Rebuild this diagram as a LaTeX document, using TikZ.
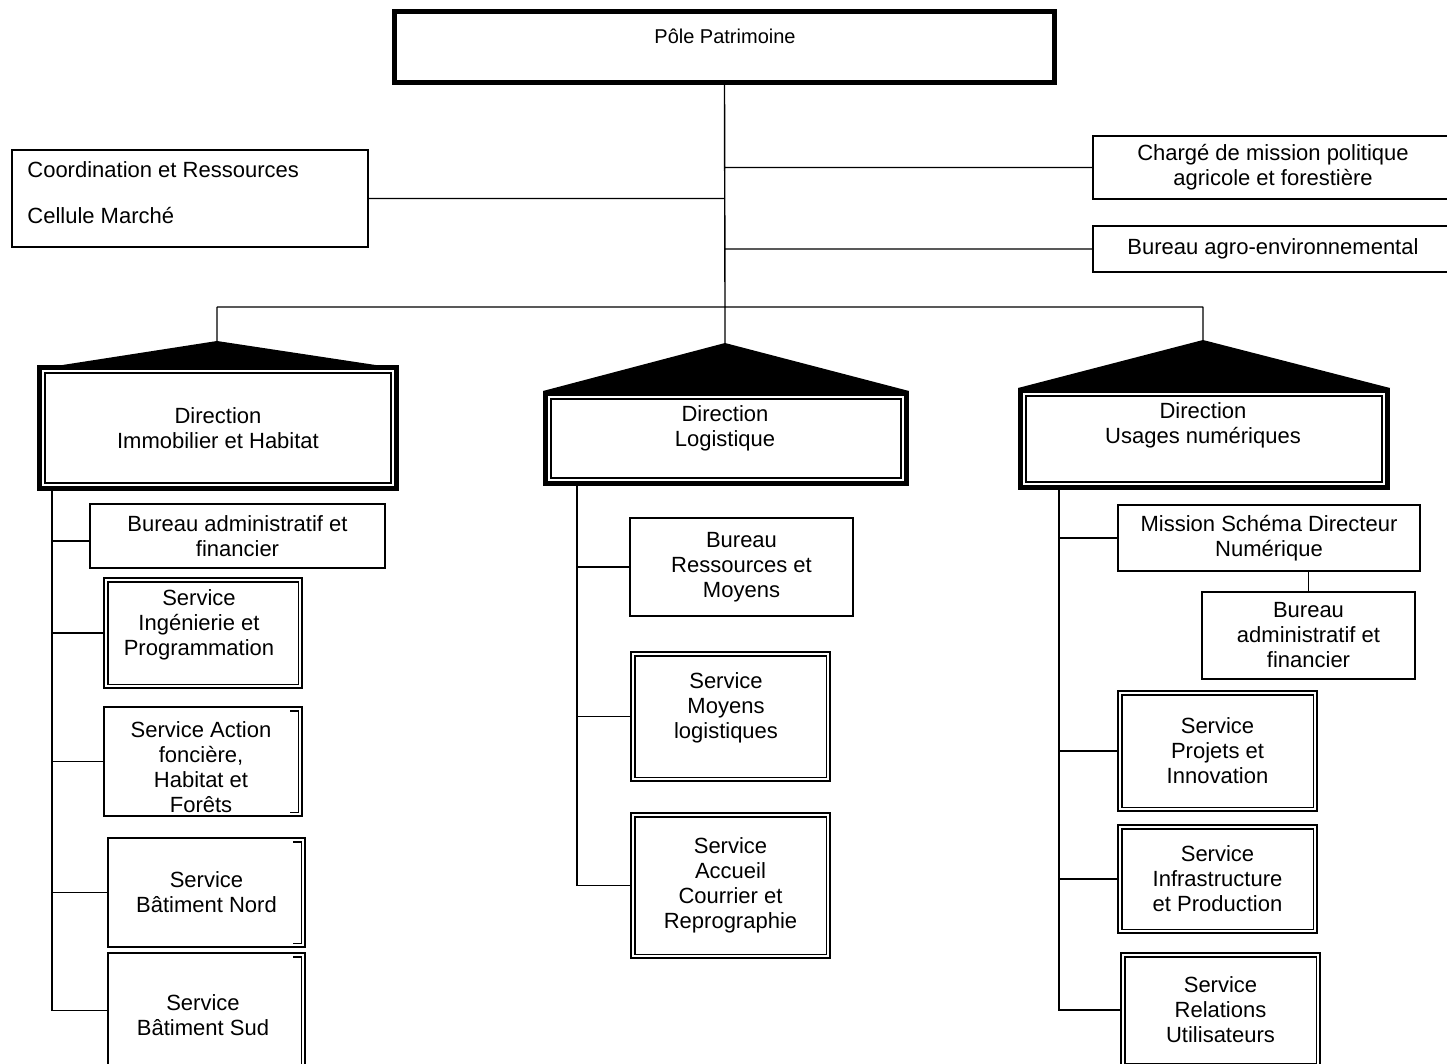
\documentclass[tikz,border=0pt]{standalone}
\usepackage{fontspec}
\setmainfont{Liberation Sans}

\tikzset{
    box/.style = {draw, line width=0.7pt, align=center, inner sep=2pt, font=\fontsize{11}{12.5}\selectfont},
    txt/.style = {align=center, inner sep=0pt, font=\fontsize{11}{12.5}\selectfont},
    pole/.style = {draw, line width=2.5pt},
    dir/.style = {box, line width=2.5pt,
        path picture={\draw[line width=0.8pt] ([shift={(2.65pt,2.65pt)}]path picture bounding box.south west) rectangle ([shift={(-2.65pt,-2.65pt)}]path picture bounding box.north east);}},
    svc/.style = {box, line width=1.4pt,
        path picture={\draw[line width=0.7pt] ([shift={(1.9pt,1.9pt)}]path picture bounding box.south west) rectangle ([shift={(-1.9pt,-1.9pt)}]path picture bounding box.north east);}},
    svcopen/.style = {box, line width=1.4pt,
        path picture={\draw[line width=0.7pt] ([shift={(-6pt,-1.9pt)}]path picture bounding box.north east) -| ([shift={(-1.9pt,1.9pt)}]path picture bounding box.south east) -- ++(-4pt,0);}},
    link/.style = {line width=0.7pt},
}

\begin{document}
\begin{tikzpicture}[x = 0.5pt, y = -0.5pt]
    \useasboundingbox (0,0) rectangle (1447,1064);

    \node[pole, minimum width=330pt, minimum height=35.5pt] (pole) at (724.5,47) {};
    \node[txt, font=\fontsize{10}{12}\selectfont] (tPole) at (725,36) {Pôle Patrimoine};

    \node[box, minimum width=178pt, minimum height=48.5pt] (coord) at (190,198.5) {};
    \node[txt, anchor=west] (tCoordA) at (27,170) {Coordination et Ressources};
    \node[txt, anchor=west] (tCoordB) at (27,216) {Cellule Marché};
    \node[box, minimum width=180pt, minimum height=31.5pt] (charge) at (1273,167.5) {Chargé de mission politique\\agricole et forestière};
    \node[box, minimum width=180pt, minimum height=23pt] (agro) at (1273,249) {Bureau agro-environnemental};

    \node[dir, minimum width=178.5pt, minimum height=60.5pt] (dImm) at (218,428) {Direction\\Immobilier et Habitat};
    \node[dir, minimum width=180.5pt, minimum height=45pt] (dLog) at (726,438.5) {};
    \node[txt] (tLog) at (725,428.5) {Direction\\Logistique};
    \node[dir, minimum width=183.5pt, minimum height=48.5pt] (dUsa) at (1204,439) {};
    \node[txt] (tUsa) at (1203,425.5) {Direction\\Usages numériques};

    \node[box, minimum width=147.5pt, minimum height=32pt] (bAdmL) at (237.5,536) {Bureau administratif et\\financier};
    \node[svc, minimum width=99pt, minimum height=55pt] (sIng) at (203,633) {};
    \node[txt] (tIng) at (199,625) {Service\\Ingénierie et\\Programmation};
    \node[svcopen, minimum width=99pt, minimum height=54.5pt] (sAct) at (203,761.5) {};
    \node[txt] (tAct) at (201,767.5) {Service Action\\foncière,\\Habitat et\\Forêts};
    \node[svcopen, minimum width=98.5pt, minimum height=54.5pt] (sNord) at (206.5,892.5) {Service\\Bâtiment Nord};
    \node[svcopen, minimum width=98.5pt, minimum height=57.5pt] (sSud) at (206.5,1010.5) {};
    \node[txt] (tSud) at (203,1015.5) {Service\\Bâtiment Sud};

    \node[box, minimum width=111.5pt, minimum height=49pt] (bRM) at (741.5,567) {Bureau\\Ressources et\\Moyens};
    \node[svc, minimum width=99.5pt, minimum height=64.5pt] (sMoy) at (730.5,716.5) {};
    \node[txt] (tMoy) at (726,708) {Service\\Moyens\\logistiques};
    \node[svc, minimum width=99.5pt, minimum height=72.5pt] (sAcc) at (730.5,885.5) {Service\\Accueil\\Courrier et\\Reprographie};

    \node[box, minimum width=151pt, minimum height=33pt] (mSDN) at (1269,538) {Mission Schéma Directeur\\Numérique};
    \node[box, minimum width=106.5pt, minimum height=43.5pt] (bAdmR) at (1308.5,635.5) {Bureau\\administratif et\\financier};
    \node[svc, minimum width=99.5pt, minimum height=60pt] (sProj) at (1217.5,751) {Service\\Projets et\\Innovation};
    \node[svc, minimum width=99.5pt, minimum height=54pt] (sInfra) at (1217.5,879) {Service\\Infrastructure\\et Production};
    \node[svc, minimum width=99.5pt, minimum height=57pt] (sRel) at (1220.5,1010) {Service\\Relations\\Utilisateurs};

    \coordinate (bus) at (725,307);
    \coordinate (busL) at (217,307);
    \coordinate (busR) at (1203,307);
    \coordinate (apI) at (217,341);
    \coordinate (apL) at (725,343);
    \coordinate (apU) at (1203,340);
    \coordinate (spI) at (52,0);
    \coordinate (spL) at (577,0);
    \coordinate (spU) at (1059,0);

    \draw[link]
        (pole.south) -- (bus)
        (coord.east) -- (coord.east -| bus)
        (charge.west -| bus) -- (charge.west)
        (agro.west -| bus) -- (agro.west)
        (busL) -- (busR)
        (busL) -- (apI)
        (bus) -- (apL)
        (busR) -- (apU)
    ;
    \fill (apI) -- ([xshift=12.75pt]dImm.north west) -- ([xshift=-11.75pt]dImm.north east) -- cycle;
    \fill (apL) -- (dLog.north west) -- (dLog.north east) -- cycle;
    \fill (apU) -- (dUsa.north west) -- (dUsa.north east) -- cycle;

    \draw[link]
        (dImm.south -| spI) |- (sSud.west)
        ([yshift=-2.5pt]bAdmL.west -| spI) -- ([yshift=-2.5pt]bAdmL.west)
        (spI |- sIng.west) -- (sIng.west)
        (spI |- sAct.west) -- (sAct.west)
        (spI |- sNord.west) -- (sNord.west)
        (dLog.south -| spL) |- (sAcc.west)
        (spL |- bRM.west) -- (bRM.west)
        (spL |- sMoy.west) -- (sMoy.west)
        (dUsa.south -| spU) |- (sRel.west)
        (spU |- mSDN.west) -- (mSDN.west)
        (spU |- sProj.west) -- (sProj.west)
        (spU |- sInfra.west) -- (sInfra.west)
        (bAdmR.north |- mSDN.south) -- (bAdmR.north)
    ;
\end{tikzpicture}
\end{document}
